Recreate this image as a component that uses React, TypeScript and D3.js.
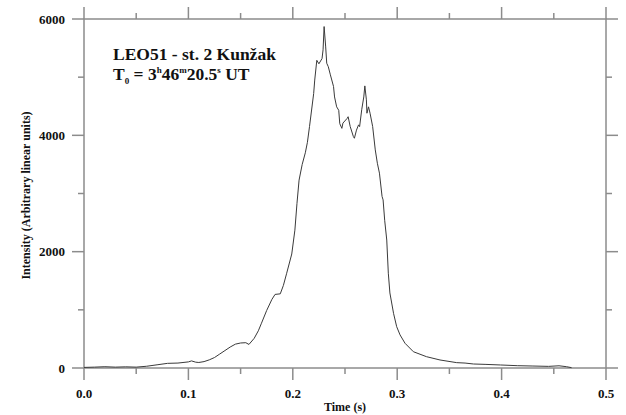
import React from "react";
import * as d3 from "d3";

const times: number[] = [
  0.0, 0.01, 0.02, 0.03, 0.04, 0.05, 0.06, 0.07, 0.08, 0.09, 0.1, 0.103, 0.107, 0.11, 0.115,
  0.12, 0.125, 0.13, 0.135, 0.14, 0.145, 0.15, 0.155, 0.158, 0.163, 0.167, 0.17, 0.175, 0.18,
  0.183, 0.188, 0.191, 0.194, 0.199, 0.202, 0.204, 0.206, 0.209, 0.212, 0.214, 0.216, 0.22,
  0.221, 0.223, 0.225, 0.228, 0.229, 0.23, 0.2315, 0.2325, 0.234, 0.236, 0.239, 0.24, 0.242,
  0.244, 0.245, 0.247, 0.248, 0.252, 0.253, 0.255, 0.258, 0.259, 0.261, 0.263, 0.264, 0.266,
  0.268, 0.269, 0.2705, 0.271, 0.2725, 0.274, 0.2765, 0.279, 0.281, 0.283, 0.2855, 0.2865,
  0.288, 0.29, 0.2915, 0.293, 0.2965, 0.2995, 0.3027, 0.3075, 0.3155, 0.328, 0.341, 0.357,
  0.365, 0.373, 0.385, 0.399, 0.415, 0.43, 0.445, 0.455, 0.462, 0.467,
];
const intensity: number[] = [
  10, 15, 22, 15, 20, 15, 30, 55, 80, 85, 105, 122, 100, 95, 110,
  140, 180, 240, 300, 360, 410, 430, 435, 405, 510, 640, 770, 990, 1180,
  1265, 1275, 1420, 1620, 1960, 2370, 2830, 3230, 3500, 3700, 3880, 4150, 4720,
  4950, 5290, 5230, 5320, 5470, 5870, 5520, 5240, 5180, 5040, 4840, 4660, 4490,
  4430, 4200, 4120, 4210, 4290, 4320, 4150, 3980, 3950, 4090, 4180, 4150, 4440,
  4660, 4850, 4610, 4380, 4490, 4380, 4150, 3750, 3520, 3350, 2950, 2890,
  2540, 2200, 1630, 1290, 940, 710, 570, 425, 280, 195, 138, 92,
  85, 69, 62, 52, 40, 34, 28, 38, 23, 6,
];

const xMajor: number[] = [0, 0.1, 0.2, 0.3, 0.4, 0.5];
const xMinor: number[] = [0.05, 0.15, 0.25, 0.35, 0.45];
const yMajor: number[] = [0, 2000, 4000, 6000];
const yMinor: number[] = [1000, 3000, 5000];

const W = 626;
const H = 415;
const left = 84;
const right = 606;
const top = 19;
const bottom = 368;

const axisColor = "#8c8c8c";
const font = "'Liberation Serif', 'Times New Roman', serif";

export default function App() {
  const x = d3.scaleLinear().domain([0, 0.5]).range([left, right]);
  const y = d3.scaleLinear().domain([0, 6000]).range([bottom, top]);
  const data = times.map((t, i) => [t, intensity[i]] as [number, number]);
  const line = d3
    .line<[number, number]>()
    .x((d) => x(d[0]))
    .y((d) => y(d[1]));

  const major = 12;
  const minor = 6;

  return (
    <svg
      width={W}
      height={H}
      style={{ position: "absolute", left: 0, top: 0, background: "#fff" }}
    >
      <rect x={0} y={0} width={W} height={H} fill="#fff" />
      <rect
        x={left}
        y={top}
        width={right - left}
        height={bottom - top}
        fill="none"
        stroke={axisColor}
        strokeWidth={1.5}
      />
      {xMajor.map((t) => (
        <g key={"xm" + t}>
          <line x1={x(t)} x2={x(t)} y1={bottom} y2={bottom + major} stroke={axisColor} strokeWidth={1.5} />
          <line x1={x(t)} x2={x(t)} y1={top} y2={top - major} stroke={axisColor} strokeWidth={1.5} />
          <text
            x={x(t)}
            y={398}
            textAnchor="middle"
            fontFamily={font}
            fontWeight="bold"
            fontSize={13}
            fill="#111"
          >
            {t.toFixed(1)}
          </text>
        </g>
      ))}
      {xMinor.map((t) => (
        <g key={"xn" + t}>
          <line x1={x(t)} x2={x(t)} y1={bottom} y2={bottom + minor} stroke={axisColor} strokeWidth={1.5} />
          <line x1={x(t)} x2={x(t)} y1={top} y2={top - minor} stroke={axisColor} strokeWidth={1.5} />
        </g>
      ))}
      {yMajor.map((v) => (
        <g key={"ym" + v}>
          <line x1={left} x2={left - major} y1={y(v)} y2={y(v)} stroke={axisColor} strokeWidth={1.5} />
          <line x1={right} x2={right + major} y1={y(v)} y2={y(v)} stroke={axisColor} strokeWidth={1.5} />
          <text
            x={65}
            y={y(v) + 4.5}
            textAnchor="end"
            fontFamily={font}
            fontWeight="bold"
            fontSize={13}
            fill="#111"
          >
            {v}
          </text>
        </g>
      ))}
      {yMinor.map((v) => (
        <g key={"yn" + v}>
          <line x1={left} x2={left - minor} y1={y(v)} y2={y(v)} stroke={axisColor} strokeWidth={1.5} />
          <line x1={right} x2={right + minor} y1={y(v)} y2={y(v)} stroke={axisColor} strokeWidth={1.5} />
        </g>
      ))}
      <path d={line(data) || ""} fill="none" stroke="#3a3a3a" strokeWidth={1} />
      <text
        x={(left + right) / 2}
        y={411}
        textAnchor="middle"
        fontFamily={font}
        fontWeight="bold"
        fontSize={12}
        fill="#111"
      >
        Time (s)
      </text>
      <text
        transform={`translate(30, ${(top + bottom) / 2 + 2}) rotate(-90)`}
        textAnchor="middle"
        fontFamily={font}
        fontWeight="bold"
        fontSize={12}
        fill="#111"
      >
        Intensity (Arbitrary linear units)
      </text>
      <text x={113} y={60} fontFamily={font} fontWeight="bold" fontSize={17.5} fill="#111">
        LEO51 - st. 2 Kunžak
      </text>
      <text x={113} y={80} fontFamily={font} fontWeight="bold" fontSize={17.5} fill="#111">
        T
        <tspan fontSize={9} dy={4}>0</tspan>
        <tspan dy={-4}> = 3</tspan>
        <tspan fontSize={9} dy={-7}>h</tspan>
        <tspan dy={7}>46</tspan>
        <tspan fontSize={9} dy={-7}>m</tspan>
        <tspan dy={7}>20.5</tspan>
        <tspan fontSize={9} dy={-7}>s</tspan>
        <tspan dy={7}> UT</tspan>
      </text>
    </svg>
  );
}
